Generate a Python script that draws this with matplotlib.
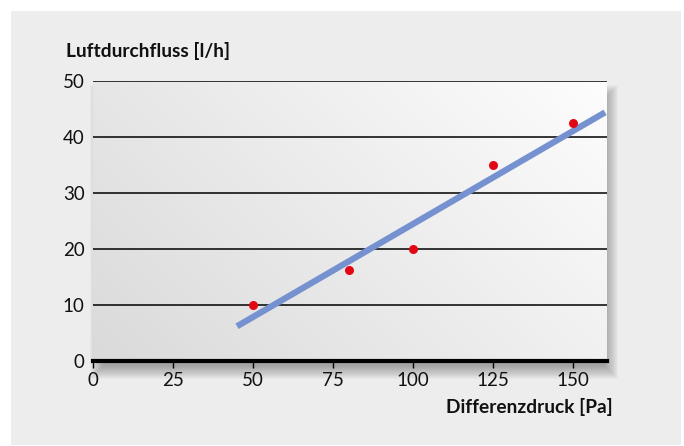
import numpy as np
import matplotlib.pyplot as plt
from matplotlib.patches import Rectangle

# measured points
druck = [50, 80, 100, 125, 150]
durchfluss = [10, 16.3, 20, 35, 42.5]

# regression line as drawn (endpoints)
fit_x = [45, 160]
fit_y = [6.2, 44.4]

x_ticks = [0, 25, 50, 75, 100, 125, 150]
y_ticks = [0, 10, 20, 30, 40, 50]

plt.rcParams['font.family'] = ['Lato', 'DejaVu Sans']

W, H = 684, 446
fig = plt.figure(figsize=(W / 100, H / 100), dpi=100)
fig.patch.set_facecolor('white')

# grey panel behind everything
fig.patches.append(Rectangle((11 / W, 1 - 445 / H), 670 / W, 434 / H,
                             transform=fig.transFigure, facecolor='#ededed',
                             edgecolor='none', zorder=0))

left, right, top, bottom = 93, 607, 81, 361
ax_rect = [left / W, 1 - bottom / H, (right - left) / W, (bottom - top) / H]

# soft blurred drop shadow, shifted right/down
dx, dy = 4, 5
for i in range(14):
    grow = i
    fig.patches.append(Rectangle(((left + dx + 6 - grow) / W, 1 - (bottom + dy + grow) / H),
                                 (right - left - 12 + 2 * grow) / W,
                                 (bottom - top - 12 + 2 * grow) / H,
                                 transform=fig.transFigure, facecolor='black',
                                 edgecolor='none', alpha=0.022, zorder=0.5))

ax = fig.add_axes(ax_rect)
ax.set_zorder(2)
ax.set_xlim(0, 160.6)
ax.set_ylim(0, 50)

# diagonal gradient fill of plot area
u = np.linspace(0, 1, 200)
v = np.linspace(0, 1, 120)
U, V = np.meshgrid(u, v)
g = (218 + 35 * (0.65 * U + 0.35 * V)) / 255
ax.imshow(np.dstack([g, g, g]), extent=[0, 160.6, 0, 50], origin='lower',
          aspect='auto', zorder=0, interpolation='bilinear')

for yv in y_ticks[1:]:
    ax.axhline(yv, color='black', lw=1.1, zorder=1)
ax.axhline(0, color='black', lw=3, zorder=3, clip_on=False)

ax.plot(fit_x, fit_y, color='#7591cf', lw=4.5, solid_capstyle='butt', zorder=2)
ax.scatter(druck, durchfluss, s=42, color='#e30613', zorder=4, linewidths=0)

for s in ax.spines.values():
    s.set_visible(False)

ax.set_xticks(x_ticks)
ax.set_yticks(y_ticks)
ax.tick_params(axis='x', direction='out', length=5, width=1, color='black',
               labelsize=13.5, pad=3)
ax.tick_params(axis='y', length=0, labelsize=13.5, pad=6)
for lab in ax.get_xticklabels() + ax.get_yticklabels():
    lab.set_color('#111111')

fig.text(66 / W, 1 - 57 / H, 'Luftdurchfluss [l/h]', fontsize=13.8,
         fontweight='bold', ha='left', va='baseline', color='#111111')
fig.text(613 / W, 1 - 413 / H, 'Differenzdruck [Pa]', fontsize=13.8,
         fontweight='bold', ha='right', va='baseline', color='#111111')

fig.savefig('out.png', dpi=100)
